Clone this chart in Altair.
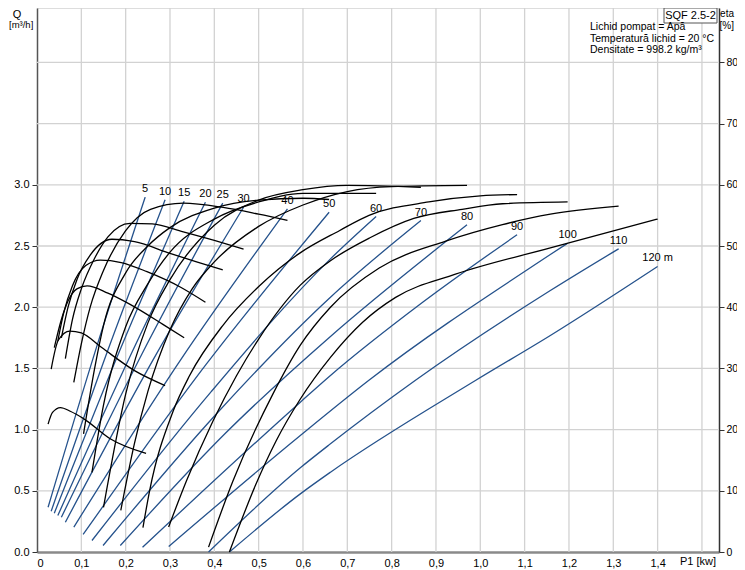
import altair as alt
import pandas as pd

# ---------------- data ----------------
heads = [5, 10, 15, 20, 25, 30, 40, 50, 60, 70, 80, 90, 100, 110, 120]
head_labels = ["5", "10", "15", "20", "25", "30", "40", "50", "60", "70",
               "80", "90", "100", "110", "120 m"]

# flow Q [m3/h] versus power P1 [kW] (blue curves)
q_p_5 = [0.025, 0.134, 0.244]
q_v_5 = [0.366, 1.67, 2.899]
q_p_10 = [0.032, 0.160, 0.289]
q_v_10 = [0.333, 1.65, 2.877]
q_p_15 = [0.039, 0.186, 0.332]
q_v_15 = [0.317, 1.64, 2.866]
q_p_20 = [0.047, 0.214, 0.380]
q_v_20 = [0.298, 1.63, 2.858]
q_p_25 = [0.055, 0.237, 0.419]
q_v_25 = [0.284, 1.62, 2.850]
q_p_30 = [0.064, 0.265, 0.466]
q_v_30 = [0.243, 1.59, 2.817]
q_p_40 = [0.083, 0.324, 0.565]
q_v_40 = [0.203, 1.57, 2.804]
q_p_50 = [0.104, 0.381, 0.659]
q_v_50 = [0.143, 1.53, 2.776]
q_p_60 = [0.124, 0.393, 0.662, 0.765]
q_v_60 = [0.094, 1.31, 2.395, 2.741]
q_p_70 = [0.149, 0.405, 0.662, 0.866]
q_v_70 = [0.053, 1.13, 2.082, 2.708]
q_p_80 = [0.188, 0.425, 0.662, 0.970]
q_v_80 = [0.053, 0.97, 1.761, 2.673]
q_p_90 = [0.238, 0.594, 0.662, 0.870, 1.083]
q_v_90 = [0.039, 1.224, 1.442, 2.04, 2.592]
q_p_100 = [0.297, 0.594, 0.748, 1.158, 1.197]
q_v_100 = [0.045, 0.952, 1.401, 2.43, 2.523]
q_p_110 = [0.387, 0.594, 0.662, 0.853, 1.158, 1.312]
q_v_110 = [0.0, 0.688, 0.884, 1.401, 2.136, 2.477]
q_p_120 = [0.434, 0.594, 0.662, 0.989, 1.158, 1.400]
q_v_120 = [0.0, 0.475, 0.652, 1.401, 1.769, 2.333]

# efficiency eta [%] versus power P1 [kW] (black curves)
e_p_5 = [0.025, 0.035, 0.053, 0.075, 0.105, 0.165, 0.246]
e_v_5 = [20.9, 22.8, 23.6, 23.0, 21.8, 18.5, 16.1]
e_p_10 = [0.032, 0.048, 0.074, 0.10, 0.146, 0.221, 0.289]
e_v_10 = [29.9, 34.6, 36.1, 35.8, 33.4, 29.6, 27.2]
e_p_15 = [0.039, 0.055, 0.07, 0.09, 0.113, 0.16, 0.209, 0.284, 0.332]
e_v_15 = [33.4, 38.0, 41.0, 43.0, 43.5, 42.3, 40.5, 37.2, 35.0]
e_p_20 = [0.047, 0.06, 0.08, 0.11, 0.143, 0.19, 0.248, 0.323, 0.380]
e_v_20 = [34.5, 39.0, 43.5, 46.8, 47.7, 47.3, 45.8, 43.3, 40.8]
e_p_25 = [0.055, 0.07, 0.09, 0.12, 0.169, 0.22, 0.30, 0.36, 0.419]
e_v_25 = [35.0, 40.0, 44.5, 48.5, 51.1, 50.7, 48.8, 47.4, 46.1]
e_p_30 = [0.064, 0.08, 0.10, 0.13, 0.16, 0.21, 0.26, 0.33, 0.40, 0.466]
e_v_30 = [31.6, 38.0, 43.0, 48.0, 51.5, 53.7, 53.6, 52.3, 50.9, 49.5]
e_p_40 = [0.083, 0.10, 0.12, 0.15, 0.20, 0.256, 0.33, 0.42, 0.50, 0.565]
e_v_40 = [27.7, 34.0, 40.0, 46.0, 52.5, 56.0, 57.0, 56.3, 55.2, 54.2]
e_p_50 = [0.105, 0.13, 0.15, 0.20, 0.25, 0.30, 0.40, 0.50, 0.60, 0.659]
e_v_50 = [19.3, 30.0, 37.0, 45.6, 50.0, 53.0, 56.2, 57.5, 57.8, 57.6]
e_p_60 = [0.124, 0.15, 0.20, 0.25, 0.30, 0.40, 0.50, 0.60, 0.765]
e_v_60 = [13.0, 24.0, 36.8, 43.8, 49.0, 54.4, 57.2, 58.6, 58.6]
e_p_70 = [0.150, 0.20, 0.25, 0.30, 0.40, 0.50, 0.60, 0.70, 0.866]
e_v_70 = [7.3, 25.8, 37.4, 44.5, 53.4, 57.5, 59.2, 59.9, 59.6]
e_p_80 = [0.189, 0.22, 0.25, 0.30, 0.35, 0.40, 0.50, 0.60, 0.70, 0.80, 0.970]
e_v_80 = [6.8, 17.8, 26.2, 36.3, 43.0, 47.4, 53.2, 56.7, 58.9, 59.7, 59.9]
e_p_90 = [0.239, 0.254, 0.307, 0.344, 0.419, 0.502, 0.592, 0.682, 0.749, 0.884, 1.0, 1.083]
e_v_90 = [4.0, 10.0, 23.0, 28.8, 37.0, 43.5, 48.8, 52.5, 55.0, 57.2, 58.2, 58.4]
e_p_100 = [0.297, 0.337, 0.397, 0.45, 0.50, 0.594, 0.662, 0.75, 0.85, 0.959, 1.05, 1.197]
e_v_100 = [4.1, 11.6, 21.4, 28.8, 34.8, 43.6, 47.6, 51.3, 54.5, 56.0, 56.9, 57.2]
e_p_110 = [0.387, 0.442, 0.532, 0.594, 0.662, 0.772, 0.922, 1.05, 1.158, 1.312]
e_v_110 = [0.8, 11.6, 25.8, 33.8, 40.0, 46.4, 50.8, 53.5, 55.2, 56.5]
e_p_120 = [0.434, 0.494, 0.539, 0.594, 0.662, 0.734, 0.809, 0.944, 1.158, 1.400]
e_v_120 = [0.0, 11.1, 18.1, 25.0, 31.8, 37.5, 41.6, 45.4, 49.7, 54.4]

# axes / grid tick values
x_tick_values = [0, 0.1, 0.2, 0.3, 0.4, 0.5, 0.6, 0.7, 0.8, 0.9, 1.0, 1.1, 1.2, 1.3, 1.4]
x_grid_values = [0.1, 0.2, 0.3, 0.4, 0.5, 0.6, 0.7, 0.8, 0.9, 1.0, 1.1, 1.2, 1.3, 1.4, 1.5]
q_tick_values = [0, 0.5, 1.0, 1.5, 2.0, 2.5, 3.0]
q_grid_values = [0.5, 1.0, 1.5, 2.0, 2.5, 3.0, 3.5, 4.0]
eta_tick_values = [0, 10, 20, 30, 40, 50, 60, 70, 80]

info_lines = ["Lichid pompat = Apă", "Temperatură lichid = 20 °C", "Densitate = 998.2 kg/m³"]
pump_name = "SQF 2.5-2"

# ---------------- assemble tables ----------------
q_p = [q_p_5, q_p_10, q_p_15, q_p_20, q_p_25, q_p_30, q_p_40, q_p_50,
       q_p_60, q_p_70, q_p_80, q_p_90, q_p_100, q_p_110, q_p_120]
q_v = [q_v_5, q_v_10, q_v_15, q_v_20, q_v_25, q_v_30, q_v_40, q_v_50,
       q_v_60, q_v_70, q_v_80, q_v_90, q_v_100, q_v_110, q_v_120]
e_p = [e_p_5, e_p_10, e_p_15, e_p_20, e_p_25, e_p_30, e_p_40, e_p_50,
       e_p_60, e_p_70, e_p_80, e_p_90, e_p_100, e_p_110, e_p_120]
e_v = [e_v_5, e_v_10, e_v_15, e_v_20, e_v_25, e_v_30, e_v_40, e_v_50,
       e_v_60, e_v_70, e_v_80, e_v_90, e_v_100, e_v_110, e_v_120]

q_rows, e_rows, lab_rows = [], [], []
for h, lab, ps, vs, eps, evs in zip(heads, head_labels, q_p, q_v, e_p, e_v):
    for i, (p, v) in enumerate(zip(ps, vs)):
        q_rows.append({"head": h, "i": i, "P": p, "Q": v})
    for i, (p, v) in enumerate(zip(eps, evs)):
        e_rows.append({"head": h, "i": i, "P": p, "eta": v})
    lab_rows.append({"head": h, "label": lab, "P": ps[-1], "Q": vs[-1]})

q_df = pd.DataFrame(q_rows)
e_df = pd.DataFrame(e_rows)
lab_df = pd.DataFrame(lab_rows)

# ---------------- scales ----------------
W, H = 682, 544
xs = alt.Scale(domain=[0, W / 443.3], nice=False, zero=False)
qs = alt.Scale(domain=[0, H / 122.4], nice=False, zero=False)
es = alt.Scale(domain=[0, H / 6.12], nice=False, zero=False)

FONT = "Liberation Sans"
BLUE = "#25528c"
GRID = "#d2d2d2"

x_axis = alt.Axis(
    values=x_tick_values, format=".1f",
    labelExpr="datum.value == 0 ? '0' : replace(datum.label, '.', ',')",
    ticks=False, grid=False, title=None,
    domainColor="#8a8a8a", domainWidth=2.5,
    labelFontSize=11, labelColor="#000", labelFont=FONT, labelPadding=5,
)
q_axis = alt.Axis(
    values=q_tick_values, format=".1f", orient="left", grid=False, title=None,
    domainColor="#555", domainWidth=1.5, tickColor="#333", tickSize=5,
    labelFontSize=11, labelColor="#000", labelFont=FONT, labelPadding=3,
)
e_axis = alt.Axis(
    values=eta_tick_values, orient="right", grid=False, title=None,
    domainColor="#333", domainWidth=1.5, tickColor="#333", tickSize=5,
    labelFontSize=10.5, labelColor="#000", labelFont=FONT, labelPadding=2,
)

vgrid = alt.Chart(pd.DataFrame({"g": x_grid_values})).mark_rule(
    color=GRID, strokeWidth=1.3
).encode(x=alt.X("g:Q", scale=xs, axis=x_axis))

hgrid = alt.Chart(pd.DataFrame({"g": q_grid_values})).mark_rule(
    color=GRID, strokeWidth=1.3
).encode(y=alt.Y("g:Q", scale=qs, axis=None))

blue = alt.Chart(q_df).mark_line(
    color=BLUE, strokeWidth=1.3, interpolate="monotone"
).encode(
    x=alt.X("P:Q", scale=xs, axis=x_axis),
    y=alt.Y("Q:Q", scale=qs, axis=q_axis),
    detail="head:N",
    order="i:Q",
)

labels = alt.Chart(lab_df).mark_text(
    fontSize=11, font=FONT, color="#000", dy=-8, baseline="middle", align="center"
).encode(
    x=alt.X("P:Q", scale=xs, axis=x_axis),
    y=alt.Y("Q:Q", scale=qs, axis=None),
    text="label:N",
)

black = alt.Chart(e_df).mark_line(
    color="#000", strokeWidth=1.3, interpolate="monotone"
).encode(
    x=alt.X("P:Q", scale=xs, axis=x_axis),
    y=alt.Y("eta:Q", scale=es, axis=e_axis),
    detail="head:N",
    order="i:Q",
)

def txt(s, x, y, align="center", size=11, baseline="top"):
    return alt.Chart(pd.DataFrame({"t": [s]})).mark_text(
        font=FONT, fontSize=size, color="#000", align=align, baseline=baseline
    ).encode(text="t:N", x=alt.value(x), y=alt.value(y))

box = alt.Chart(pd.DataFrame({"t": [pump_name]})).mark_rect(
    fill="white", stroke="#555", strokeWidth=1
).encode(x=alt.value(627), x2=alt.value(680), y=alt.value(0), y2=alt.value(15))

texts = [
    txt("Q", -20, 1),
    txt("[m³/h]", -28, 12, align="left", size=9.5),
    txt("eta", 697, 1, align="right", size=10),
    txt("[%]", 697, 13, align="right", size=10),
    txt(pump_name, 653.5, 8, baseline="middle"),
    txt(info_lines[0], 553, 19, align="left", size=10.5, baseline="middle"),
    txt(info_lines[1], 553, 30.5, align="left", size=10.5, baseline="middle"),
    txt(info_lines[2], 553, 42, align="left", size=10.5, baseline="middle"),
    txt("P1 [kw]", 661, 554, size=11, baseline="middle"),
]

chart = alt.layer(
    vgrid, hgrid, blue, black, labels, box, *texts
).resolve_scale(y="independent").properties(
    width=W, height=H,
    padding={"left": 29, "top": 0, "right": 18, "bottom": 17},
    autosize=alt.AutoSizeParams(type="none"),
).configure_view(stroke=None).configure(font=FONT)

chart.save("out.html", embed_options={"renderer": "svg", "actions": False})
